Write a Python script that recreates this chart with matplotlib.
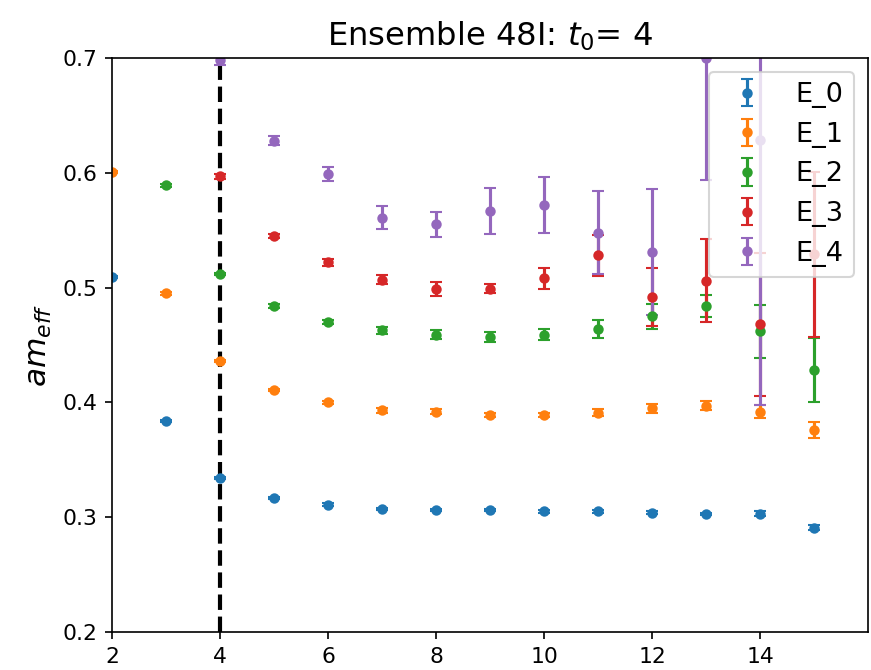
import numpy as np
import matplotlib
matplotlib.use("Agg")
import matplotlib.pyplot as plt

# effective masses per state, t = source-sink separation
t0 = 4
t_E0 = [2, 3, 4, 5, 6, 7, 8, 9, 10, 11, 12, 13, 14, 15]
E0 = [0.509, 0.384, 0.334, 0.317, 0.311, 0.307, 0.306, 0.306, 0.305, 0.305, 0.304, 0.303, 0.303, 0.291]
dE0 = [0.001, 0.001, 0.001, 0.001, 0.001, 0.001, 0.001, 0.001, 0.001, 0.001, 0.001, 0.001, 0.002, 0.002]

t_E1 = [2, 3, 4, 5, 6, 7, 8, 9, 10, 11, 12, 13, 14, 15]
E1 = [0.601, 0.495, 0.436, 0.411, 0.400, 0.393, 0.392, 0.389, 0.389, 0.391, 0.395, 0.397, 0.392, 0.376]
dE1 = [0.001, 0.001, 0.001, 0.001, 0.001, 0.002, 0.002, 0.002, 0.002, 0.003, 0.004, 0.004, 0.006, 0.007]

t_E2 = [3, 4, 5, 6, 7, 8, 9, 10, 11, 12, 13, 14, 15]
E2 = [0.589, 0.512, 0.484, 0.470, 0.463, 0.459, 0.457, 0.459, 0.464, 0.475, 0.484, 0.462, 0.428]
dE2 = [0.001, 0.001, 0.002, 0.002, 0.003, 0.004, 0.004, 0.005, 0.008, 0.011, 0.010, 0.023, 0.028]

t_E3 = [4, 5, 6, 7, 8, 9, 10, 11, 12, 13, 14, 15]
E3 = [0.597, 0.545, 0.522, 0.507, 0.499, 0.499, 0.508, 0.528, 0.492, 0.506, 0.468, 0.529]
dE3 = [0.002, 0.002, 0.003, 0.004, 0.006, 0.004, 0.009, 0.018, 0.025, 0.036, 0.062, 0.072]

t_E4 = [4, 5, 6, 7, 8, 9, 10, 11, 12, 13, 14]
E4 = [0.698, 0.628, 0.599, 0.561, 0.555, 0.567, 0.572, 0.548, 0.531, 0.700, 0.629]
dE4 = [0.004, 0.004, 0.006, 0.010, 0.011, 0.020, 0.024, 0.036, 0.055, 0.106, 0.231]

series = [(t_E0, E0, dE0, "E_0"), (t_E1, E1, dE1, "E_1"), (t_E2, E2, dE2, "E_2"),
          (t_E3, E3, dE3, "E_3"), (t_E4, E4, dE4, "E_4")]

fig = plt.figure(figsize=(871 / 150, 670 / 150), dpi=150)
ax = fig.add_axes([0.1286, 0.0567, 0.8680, 0.8567])

# t0 marker sits under the data
ax.axvline(t0, color='k', ls='--', lw=2, zorder=1)

for t, e, de, name in series:
    ax.errorbar(t, e, yerr=de, fmt='o', ms=4.0, capsize=3, label=name)

ax.set_xlim(2, 16)
ax.set_ylim(0.2, 0.7)
ax.set_xticks([2, 4, 6, 8, 10, 12, 14])
ax.tick_params(labelsize=10.5)
ax.set_ylabel(r'$am_{eff}$', fontsize=15)
ax.set_title(r'Ensemble 48I: $t_0$= %d' % t0, fontsize=15.5)
ax.legend(loc='upper right', fontsize=13)

fig.savefig("out.png", dpi=150)
